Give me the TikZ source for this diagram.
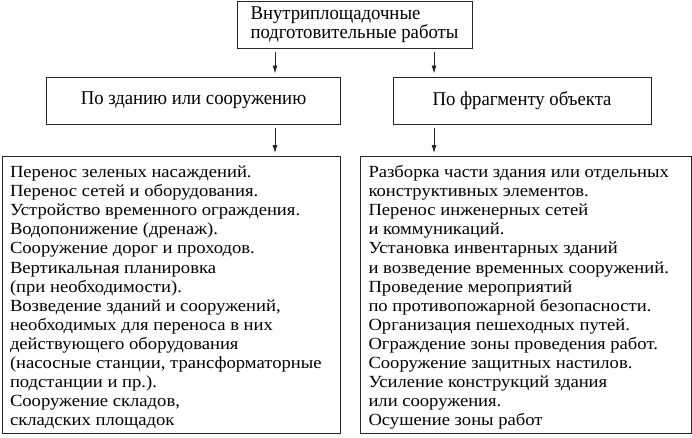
\documentclass[tikz,border=0pt]{standalone}
\usepackage{fontspec}
\setmainfont{Liberation Serif}
\newfontfamily\headfont[FakeStretch=0.96]{Liberation Serif}
\newfontfamily\listfont[FakeStretch=1.095]{Liberation Serif}
\usetikzlibrary{arrows.meta}
\newcommand{\listtext}[2]{\parbox[c][277pt][t]{#1}{\raggedright\rule{0pt}{21pt}#2}}
\begin{document}
\begin{tikzpicture}[x=1pt,y=-1pt,
  box/.style={draw=black!85, line width=1pt, rectangle, inner sep=0pt},
  head/.style={box, font=\headfont\fontsize{19.5}{19.5}\selectfont},
  list/.style={box, font=\listfont\fontsize{17}{19.1}\selectfont, inner xsep=8pt, inner ysep=0pt, anchor=north west},
  arr/.style={draw=black!85, line width=0.8pt, -{Latex[length=8pt,width=5pt]}, shorten <=3pt, shorten >=3pt}]
\useasboundingbox (0,0) rectangle (692,437);
\node[head, align=left, minimum width=235pt, minimum height=47pt] (top) at (354.5,24.5) {Внутриплощадочные\\подготовительные работы};
\node[head, align=center, minimum width=294pt, minimum height=47pt] (L2) at (193.5,100.5) {По зданию или сооружению};
\node[head, align=center, minimum width=258pt, minimum height=47pt] (R2) at (522,100.5) {По фрагменту объекта};
\node[list] (L3) at (1.5,156) {\listtext{322pt}{Перенос зеленых насаждений.\\
Перенос сетей и оборудования.\\
Устройство временного ограждения.\\
Водопонижение (дренаж).\\
Сооружение дорог и проходов.\\
Вертикальная планировка\\
(при необходимости).\\
Возведение зданий и сооружений,\\
необходимых для переноса в них\\
действующего оборудования\\
(насосные станции, трансформаторные\\
подстанции и пр.).\\
Сооружение складов,\\
складских площадок}};
\node[list] (R3) at (360,156) {\listtext{315pt}{Разборка части здания или отдельных\\
конструктивных элементов.\\
Перенос инженерных сетей\\
и коммуникаций.\\
Установка инвентарных зданий\\
и возведение временных сооружений.\\
Проведение мероприятий\\
по противопожарной безопасности.\\
Организация пешеходных путей.\\
Ограждение зоны проведения работ.\\
Сооружение защитных настилов.\\
Усиление конструкций здания\\
или сооружения.\\
Осушение зоны работ}};
\coordinate (ax1) at (275,0);
\coordinate (ax2) at (434,0);
\draw[arr] (top.south -| ax1) -- (L2.north -| ax1);
\draw[arr] (top.south -| ax2) -- (R2.north -| ax2);
\draw[arr] (L2.south -| ax1) -- (L3.north -| ax1);
\draw[arr] (R2.south -| ax2) -- (R3.north -| ax2);
\end{tikzpicture}
\end{document}
